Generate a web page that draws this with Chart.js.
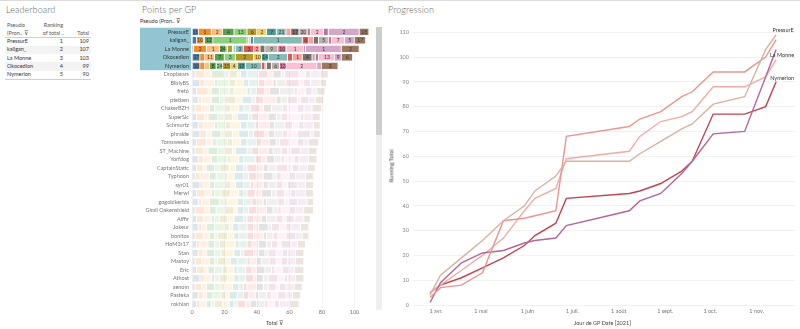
<!DOCTYPE html>
<html>
<head>
<meta charset="utf-8">
<script src="https://cdn.jsdelivr.net/npm/chart.js@4.4.1/dist/chart.umd.min.js"></script>
<style>
  body { margin: 0; width: 800px; height: 329px; overflow: hidden; background: #fff;
         font-family: Lato, "Open Sans", sans-serif; position: relative; }
  .abs { position: absolute; white-space: nowrap; }
  .title { top: 4px; font-size: 9px; font-weight: 300; color: #666; letter-spacing: 0.1px; }
  .small { font-size: 5.5px; color: #444; }
  .topline { left: 0; top: 0; width: 800px; height: 1px; background: #dcdcdc; }
  #lb .cell { position: absolute; font-size: 5.5px; color: #333; }
  #lb .band { position: absolute; left: 5px; width: 86px; height: 8.4px; }
  #barBox { left: 135px; top: 20px; width: 240px; height: 309px; }
  #lineBox { left: 385px; top: 20px; width: 415px; height: 309px; }
</style>
</head>
<body>
<div class="abs topline"></div>
<div class="abs title" style="left:6px">Leaderboard</div>
<div class="abs title" style="left:142px">Points per GP</div>
<div class="abs title" style="left:388px">Progression</div>

<div id="lb"></div>

<div class="abs small" style="left:140px;top:18px;color:#333">Pseudo (Pron.. ⊽</div>
<div class="abs" id="barBox"><canvas id="pointsBar"></canvas></div>
<div class="abs small" style="left:266px;top:320px">Total ⊽</div>
<div class="abs" style="left:376px;top:27px;width:6px;height:108px;background:#cdcdcd"></div>
<div class="abs" style="left:376px;top:135px;width:6px;height:175px;background:#efefef"></div>

<div class="abs" id="lineBox"><canvas id="progLine"></canvas></div>
<div class="abs small" style="left:574px;top:320px">Jour de GP Date [2021]</div>
<div class="abs small" style="left:375px;top:163px;transform:rotate(-90deg);transform-origin:center">Running Total</div>

<script>
// --- GP calendar and axis labels ---
const gpDates = ['2021-03-28','2021-04-04','2021-04-18','2021-05-02','2021-05-16','2021-05-30',
                 '2021-06-06','2021-06-20','2021-06-27','2021-08-08','2021-08-15','2021-08-29',
                 '2021-09-12','2021-09-19','2021-10-03','2021-10-24','2021-11-07','2021-11-14'];
const monthTicks  = ['2021-04-01','2021-05-01','2021-06-01','2021-07-01','2021-08-01','2021-09-01','2021-10-01','2021-11-01'];
const monthLabels = ['1 avr.','1 mai','1 juin','1 juil.','1 août','1 sept.','1 oct.','1 nov.'];
const runTicks    = [0,10,20,30,40,50,60,70,80,90,100,110];
const totalTicks  = [0,20,40,60,80,100];

// --- points per GP, top five ---
const topNames = ['PressurE','kaligan_','La Monne','Okocedion','Nymerion'];
const ptsPressurE  = [4,8,7,7,8,6,6,6,6,0,3,5,5,2,8,3,19,6];
const ptsKaligan   = [3,4,1,5,21,1,1,2,30,4,3,3,6,2,8,0,6,7];
const ptsLaMonne   = [1,8,8,4,1,3,1,1,5,6,4,3,8,5,11,1,22,11];
const ptsOkocedion = [5,3,6,6,7,11,5,4,12,3,6,6,2,2,10,0,4,7];
const ptsNymerion  = [5,3,3,4,4,5,4,5,10,2,1,3,5,4,19,0,3,10];
const topPoints = [ptsPressurE, ptsKaligan, ptsLaMonne, ptsOkocedion, ptsNymerion];

// rank of each top player in each GP (printed inside the segments)
const rankPressurE  = [15,1,2,4,13,6,2,7,21,30,6,17,20,24,2,22,2,18];
const rankKaligan   = [16,10,25,12,1,27,24,19,1,6,8,13,5,21,7,30,5,17];
const rankLaMonne   = [28,2,1,24,29,19,26,25,3,3,2,12,9,10,1,27,1,2];
const rankOkocedion = [17,6,11,7,3,2,10,14,2,22,1,4,20,21,13,30,9,6];
const rankNymerion  = [10,14,18,8,24,15,4,19,10,19,28,12,6,13,2,30,15,3];
const topRanks = [rankPressurE, rankKaligan, rankLaMonne, rankOkocedion, rankNymerion];

// --- rest of the field ---
const fieldNames = ['Dropbears','BiblyBS','fret6','ptetben','ChakerBZH','SuperSic','Schmurtz','phraide',
  'Tomsweeks','ST_Machine','Yorfdog','CaptainStatic','Typhoon','syr01','Merwi','gogobikerbis',
  'Gimli Oakenshield','Alffir','Jokeur','bonitos','HoM3r17','Stan','Mastoy','Eric','Athost',
  'xenom','Pasteka','rokhlan'];
const fieldPoints = [
  [2,6,4,8,3,5,2,4,7,6,3,5,2,9,4,3,6,5],
  [5,3,6,2,7,4,5,3,6,4,5,2,6,8,3,4,6,4],
  [3,7,2,5,6,3,8,2,4,5,3,6,9,2,5,4,3,5],
  [4,2,6,5,3,7,4,6,2,5,8,3,4,6,2,5,4,5],
  [2,4,5,3,6,4,5,3,4,6,2,5,7,3,6,4,5,6],
  [3,5,2,6,4,5,3,7,2,4,6,5,3,4,8,2,5,5],
  [4,3,7,2,5,3,6,4,5,2,7,3,6,5,4,3,6,4],
  [5,4,3,6,2,5,4,6,3,7,2,4,5,3,6,8,2,4],
  [3,6,4,2,7,3,5,4,6,3,5,4,2,6,5,4,3,6],
  [2,5,3,6,4,5,2,7,3,4,6,3,5,4,2,6,5,5],
  [4,3,5,4,6,2,5,3,7,4,3,5,4,2,6,3,6,5],
  [3,4,2,5,3,6,4,5,2,6,4,3,5,7,3,4,5,5],
  [2,3,6,4,5,2,4,6,3,5,4,6,2,3,5,4,6,5],
  [5,2,4,3,6,4,3,5,4,2,6,3,5,4,3,6,5,5],
  [3,5,4,2,4,6,5,3,2,5,4,6,3,5,4,3,6,5],
  [4,2,5,6,3,2,6,4,5,3,4,2,7,4,3,5,6,4],
  [2,6,3,4,5,6,2,4,3,5,6,4,3,2,5,4,5,6],
  [3,4,5,2,3,5,4,6,2,4,5,3,6,4,2,5,6,4],
  [4,2,3,5,6,3,2,4,5,4,3,6,2,5,4,3,6,5],
  [2,5,4,3,2,6,4,3,5,4,6,2,4,3,5,6,4,4],
  [3,2,5,4,3,4,6,2,5,3,4,5,3,4,2,6,4,5],
  [4,3,2,5,4,3,5,4,2,6,3,4,2,5,4,3,5,5],
  [2,4,5,3,2,5,3,4,6,2,4,3,5,4,3,4,5,5],
  [3,5,2,4,5,3,4,2,5,4,3,5,4,2,5,4,3,6],
  [5,3,4,2,3,5,4,3,4,5,2,4,3,6,4,2,5,5],
  [2,4,3,5,4,2,5,4,3,2,6,4,3,5,2,4,5,5],
  [4,3,2,4,5,3,2,5,4,3,4,2,5,3,4,5,4,5],
  [3,2,4,3,2,5,4,3,2,5,3,4,5,2,4,3,6,6]
];

// colours: one per GP, lines coloured per player
const gpColors = ['#4e79a7','#f28e2b','#ffbe7d','#59a14f','#8cd17d','#b6992d','#f1ce63','#499894','#86bcb6',
                  '#e15759','#ff9d9a','#79706e','#bab0ac','#d37295','#fabfd2','#b07aa1','#d4a6c8','#9d7660'];
const lineColors = ['#d6b2a4','#ec958f','#b3669a','#f2aca6','#c3434f'];

const allNames  = topNames.concat(fieldNames);
const allPoints = topPoints.concat(fieldPoints);
const sum = a => a.reduce((s, v) => s + v, 0);
const dayOfYear = s => { const [y, m, d] = s.split('-').map(Number); return (Date.UTC(y, m - 1, d) - Date.UTC(y, 0, 1)) / 864e5; };
const fade = (hex, a) => {
  const n = parseInt(hex.slice(1), 16);
  return `rgba(${n >> 16},${(n >> 8) & 255},${n & 255},${a})`;
};

Chart.defaults.font.family = 'Lato, "Open Sans", sans-serif';
Chart.defaults.animation = false;

// --- Leaderboard table ---
const lb = document.getElementById('lb');
const addCell = (txt, x, y, align, color) => {
  const d = document.createElement('div');
  d.className = 'cell';
  d.textContent = txt;
  d.style.top = y + 'px';
  if (align === 'right') d.style.right = (800 - x) + 'px'; else d.style.left = x + 'px';
  if (color) d.style.color = color;
  lb.appendChild(d);
};
addCell('Pseudo', 7, 22, 'left', '#555');
addCell('(Pron..  ⊽', 7, 30, 'left', '#555');
addCell('Ranking', 63, 22, 'right', '#555');
addCell('of total ..', 64, 30, 'right', '#555');
addCell('Total', 89, 30, 'right', '#555');
topNames.forEach((name, i) => {
  const y = 37.5 + i * 8.3;
  if (i % 2 === 1) {
    const b = document.createElement('div');
    b.className = 'band'; b.style.top = y + 'px'; b.style.background = '#f3f3f3';
    lb.appendChild(b);
  }
  addCell(name, 7, y + 0.5);
  addCell(String(i + 1), 63, y + 0.5, 'right');
  addCell(String(sum(topPoints[i])), 89, y + 0.5, 'right');
});
[37, 79].forEach(y => {
  const l = document.createElement('div');
  l.className = 'band'; l.style.top = y + 'px'; l.style.height = '0.7px'; l.style.background = '#cfcfcf';
  lb.appendChild(l);
});

// --- Points per GP: stacked horizontal bars ---
const segLabels = {
  id: 'segLabels',
  beforeDraw(chart) {
    // blue highlight behind the top five names
    const y = chart.scales.y, ctx = chart.ctx;
    const step = (y.getPixelForValue(1) - y.getPixelForValue(0));
    ctx.save();
    ctx.fillStyle = '#93c4d2';
    ctx.fillRect(5, y.getPixelForValue(0) - step / 2, 51, step * topNames.length);
    ctx.restore();
  },
  afterDatasetsDraw(chart) {
    const ctx = chart.ctx;
    ctx.save();
    ctx.font = '5px Lato, sans-serif';
    ctx.textAlign = 'center';
    ctx.textBaseline = 'middle';
    ctx.fillStyle = '#333';
    chart.data.datasets.forEach((ds, gi) => {
      chart.getDatasetMeta(gi).data.forEach((bar, row) => {
        if (row >= topRanks.length) return;
        if (Math.abs(bar.x - bar.base) < 5) return;
        ctx.fillText(topRanks[row][gi], (bar.x + bar.base) / 2, bar.y + 0.3);
      });
    });
    ctx.restore();
  }
};

new Chart(document.getElementById('pointsBar'), {
  type: 'bar',
  data: {
    labels: allNames,
    datasets: gpDates.map((d, gi) => ({
      label: d,
      data: allPoints.map(p => p[gi]),
      backgroundColor: allNames.map((n, r) => r < topNames.length ? gpColors[gi] : fade(gpColors[gi], 0.2)),
      borderColor: 'rgba(255,255,255,0.9)',
      borderWidth: { left: 0, right: 0.7, top: 0, bottom: 0 },
      borderSkipped: false,
      barPercentage: 0.8,
      categoryPercentage: 1
    }))
  },
  options: {
    indexAxis: 'y',
    responsive: true,
    maintainAspectRatio: false,
    layout: { padding: { top: 7.7, right: 1, left: 0, bottom: 0 } },
    plugins: { legend: { display: false }, tooltip: { enabled: false } },
    scales: {
      x: {
        stacked: true, min: 0, max: 112,
        afterFit: s => { s.height = 20.8; },
        afterBuildTicks: s => { s.ticks = totalTicks.map(v => ({ value: v })); },
        grid: { color: 'rgba(0,0,0,0.045)', drawTicks: false },
        border: { display: false },
        ticks: { font: { size: 5.5 }, color: '#777', padding: 0.5 }
      },
      y: {
        stacked: true,
        afterFit: s => { s.width = 57; },
        grid: { display: false, drawTicks: false },
        border: { display: false },
        ticks: {
          font: { size: 5.5 },
          color: c => c.index < topNames.length ? '#333' : '#777',
          padding: 3,
          autoSkip: false
        }
      }
    }
  },
  plugins: [segLabels]
});

// --- Progression: running totals of the top five ---
const endLabelOffset = { 'PressurE': [7, -5], 'La Monne': [6, 6], 'Nymerion': [6, -4] };
const endLabels = {
  id: 'endLabels',
  afterDatasetsDraw(chart) {
    const ctx = chart.ctx;
    ctx.save();
    ctx.font = '5.5px Lato, sans-serif';
    ctx.textAlign = 'center';
    ctx.textBaseline = 'middle';
    ctx.fillStyle = '#333';
    chart.data.datasets.forEach((ds, i) => {
      const off = endLabelOffset[ds.label];
      if (!off) return;
      const pts = chart.getDatasetMeta(i).data;
      const last = pts[pts.length - 1];
      ctx.fillText(ds.label, last.x + off[0], last.y + off[1]);
    });
    ctx.restore();
  }
};

const gpDays = gpDates.map(dayOfYear);
const running = pts => { let t = 0; return pts.map(v => (t += v)); };

new Chart(document.getElementById('progLine'), {
  type: 'line',
  data: {
    datasets: topNames.map((name, i) => ({
      label: name,
      data: running(topPoints[i]).map((v, k) => ({ x: gpDays[k], y: v })),
      borderColor: lineColors[i],
      borderWidth: 1.4,
      pointRadius: 0,
      tension: 0,
      fill: false
    }))
  },
  options: {
    responsive: true,
    maintainAspectRatio: false,
    layout: { padding: { top: 5, right: 5, left: 0, bottom: 0 } },
    plugins: { legend: { display: false }, tooltip: { enabled: false } },
    scales: {
      x: {
        type: 'linear', min: 74.65, max: 329.6,
        afterFit: s => { s.height = 22; },
        afterBuildTicks: s => { s.ticks = monthTicks.map(d => ({ value: dayOfYear(d) })); },
        grid: { display: false, drawTicks: false },
        border: { display: false },
        ticks: { font: { size: 5.5 }, color: '#777', padding: 1, callback: (v, i) => monthLabels[i] }
      },
      y: {
        min: -0.8, max: 112,
        afterFit: s => { s.width = 28; },
        afterBuildTicks: s => { s.ticks = runTicks.map(v => ({ value: v })); },
        grid: { color: '#f1f1f1', drawTicks: false },
        border: { display: false },
        ticks: { font: { size: 5.5 }, color: '#888', padding: 4 }
      }
    }
  },
  plugins: [endLabels]
});
</script>
</body>
</html>
